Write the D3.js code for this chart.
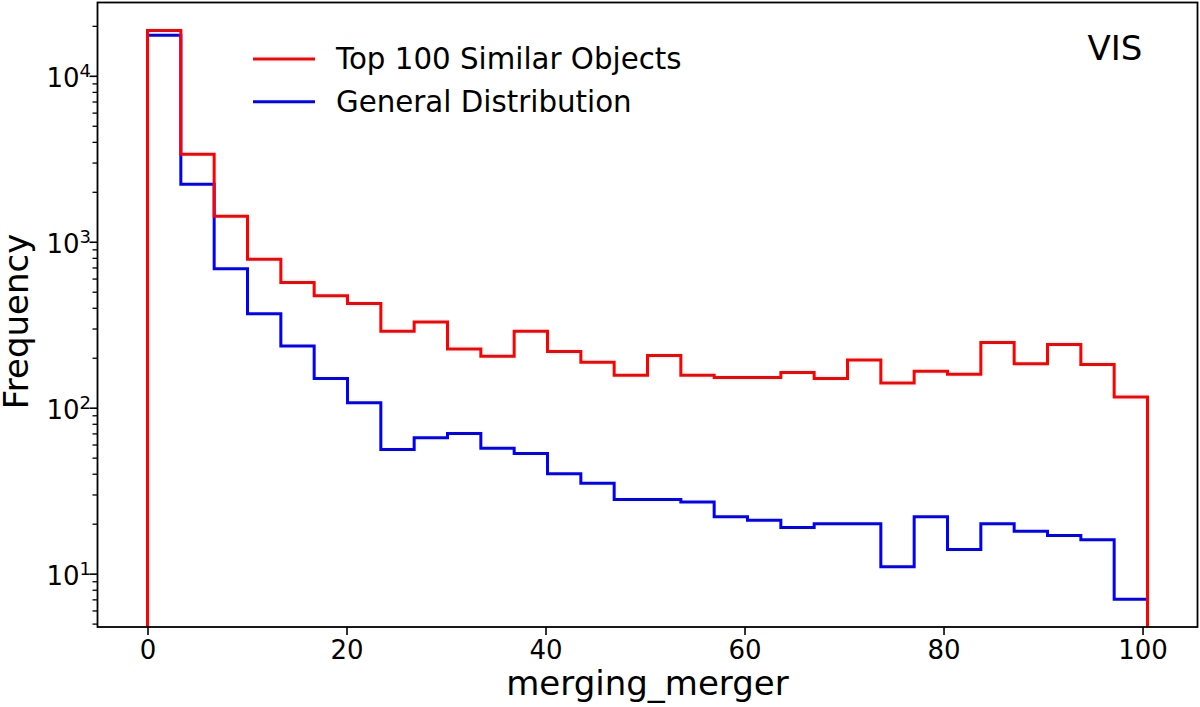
<!DOCTYPE html>
<html>
<head>
<meta charset="utf-8">
<script src="https://cdn.jsdelivr.net/npm/d3@7"></script>
<style>
  body { margin: 0; background: #fff; }
  svg { font-family: "DejaVu Sans", sans-serif; }
</style>
</head>
<body>
<svg id="chart" width="1200" height="707"></svg>
<script>
// histogram counts (30 equal bins)
var binStart = 0;
var binEnd = 100.5;
var topCounts = [18750, 3373, 1426, 785, 569, 473, 424, 289, 328, 226,
                 204, 289, 218, 188, 157, 206, 157, 152, 152, 163,
                 150, 194, 141, 166, 159, 247, 184, 240, 182, 116];
var generalCounts = [17570, 2223, 687, 368, 235, 150, 107, 56, 66, 70,
                     57, 53, 40, 35, 28, 28, 27, 22, 21, 19,
                     20, 20, 11, 22, 14, 20, 18, 17, 16, 7];
var xTicks = [0, 20, 40, 60, 80, 100];
var yMajor = [10, 100, 1000, 10000];
var seriesNames = ["Top 100 Similar Objects", "General Distribution"];
var seriesColors = ["#ff0000", "#0000ff"];

var margin = {top: 2.5, right: 2.5, bottom: 80, left: 97.5};
var width = 1200, height = 707;

var svg = d3.select("#chart");

var span = binEnd - binStart;
var x = d3.scaleLinear()
    .domain([binStart - 0.05 * span, binEnd + 0.05 * span])
    .range([margin.left, width - margin.right]);

var y = d3.scaleLog()
    .domain([4.77, 27650])
    .range([height - margin.bottom, margin.top]);

var nBins = topCounts.length;
var edges = d3.range(nBins + 1).map(i => binStart + i * span / nBins);

// clip to the axes box
svg.append("clipPath").attr("id", "plotclip")
  .append("rect")
    .attr("x", margin.left).attr("y", margin.top)
    .attr("width", width - margin.left - margin.right)
    .attr("height", height - margin.top - margin.bottom);

function stepPoints(counts) {
  var bottom = y.range()[0] + 5;
  var pts = [[x(edges[0]), bottom]];
  counts.forEach(function(c, i) {
    pts.push([x(edges[i]), y(c)]);
    pts.push([x(edges[i + 1]), y(c)]);
  });
  pts.push([x(edges[nBins]), bottom]);
  return pts;
}

var line = d3.line();
var plot = svg.append("g").attr("clip-path", "url(#plotclip)");

// general first so the red one sits on top
[generalCounts, topCounts].forEach(function(counts, k) {
  plot.append("path")
      .attr("d", line(stepPoints(counts)))
      .attr("fill", "none")
      .attr("stroke", seriesColors[1 - k])
      .attr("stroke-width", 3)
      .attr("stroke-linejoin", "miter");
});

// x axis
var xAxis = svg.append("g")
    .attr("transform", "translate(0," + (height - margin.bottom) + ")")
    .call(d3.axisBottom(x).tickValues(xTicks).tickSize(8).tickPadding(6).tickFormat(d3.format("d")));
xAxis.select(".domain").remove();
xAxis.selectAll(".tick line").attr("stroke", "#000").attr("stroke-width", 1.6);
xAxis.selectAll(".tick text").attr("font-size", 26).attr("fill", "#000")
    .attr("font-family", "DejaVu Sans");

// y axis: minor ticks
var dom = y.domain();
var yMinor = [];
for (var p = 0; p <= 5; p++) {
  for (var m = 2; m <= 9; m++) {
    var v = m * Math.pow(10, p);
    if (v > dom[0] && v < dom[1]) yMinor.push(v);
  }
}
var yMinorAxis = svg.append("g")
    .attr("transform", "translate(" + margin.left + ",0)")
    .call(d3.axisLeft(y).tickValues(yMinor).tickSize(5).tickFormat(""));
yMinorAxis.select(".domain").remove();
yMinorAxis.selectAll(".tick line").attr("stroke", "#000").attr("stroke-width", 1.3);

var yAxis = svg.append("g")
    .attr("transform", "translate(" + margin.left + ",0)")
    .call(d3.axisLeft(y).tickValues(yMajor).tickSize(8).tickPadding(6).tickFormat(""));
yAxis.select(".domain").remove();
yAxis.selectAll(".tick line").attr("stroke", "#000").attr("stroke-width", 1.6);

// major labels as 10 with superscript exponent
yMajor.forEach(function(v) {
  var t = svg.append("text")
      .attr("x", 91)
      .attr("y", y(v) + 11)
      .attr("text-anchor", "end")
      .attr("fill", "#000");
  t.append("tspan").attr("font-size", 26).text("10");
  t.append("tspan").attr("font-size", 18).attr("dy", -10)
      .text(Math.round(Math.log10(v)));
});

// axes frame
svg.append("rect")
    .attr("x", margin.left).attr("y", margin.top)
    .attr("width", width - margin.left - margin.right)
    .attr("height", height - margin.top - margin.bottom)
    .attr("fill", "none")
    .attr("stroke", "#000")
    .attr("stroke-width", 1.8);

// axis labels
svg.append("text")
    .attr("x", (margin.left + width - margin.right) / 2)
    .attr("y", 695)
    .attr("text-anchor", "middle")
    .attr("font-size", 34)
    .text("merging_merger");

svg.append("text")
    .attr("transform", "translate(27.5,321.5) rotate(-90)")
    .attr("text-anchor", "middle")
    .attr("font-size", 34)
    .text("Frequency");

// panel tag
svg.append("text")
    .attr("x", 1087.5)
    .attr("y", 60)
    .attr("font-size", 34)
    .text("VIS");

// legend
var legend = svg.append("g");
seriesNames.forEach(function(name, i) {
  var ly = 59 + i * 42.7;
  legend.append("line")
      .attr("x1", 253).attr("x2", 315)
      .attr("y1", ly).attr("y2", ly)
      .attr("stroke", seriesColors[i])
      .attr("stroke-width", 3);
  legend.append("text")
      .attr("x", 336)
      .attr("y", ly + 10)
      .attr("font-size", 29.3)
      .text(name);
});
</script>
</body>
</html>
